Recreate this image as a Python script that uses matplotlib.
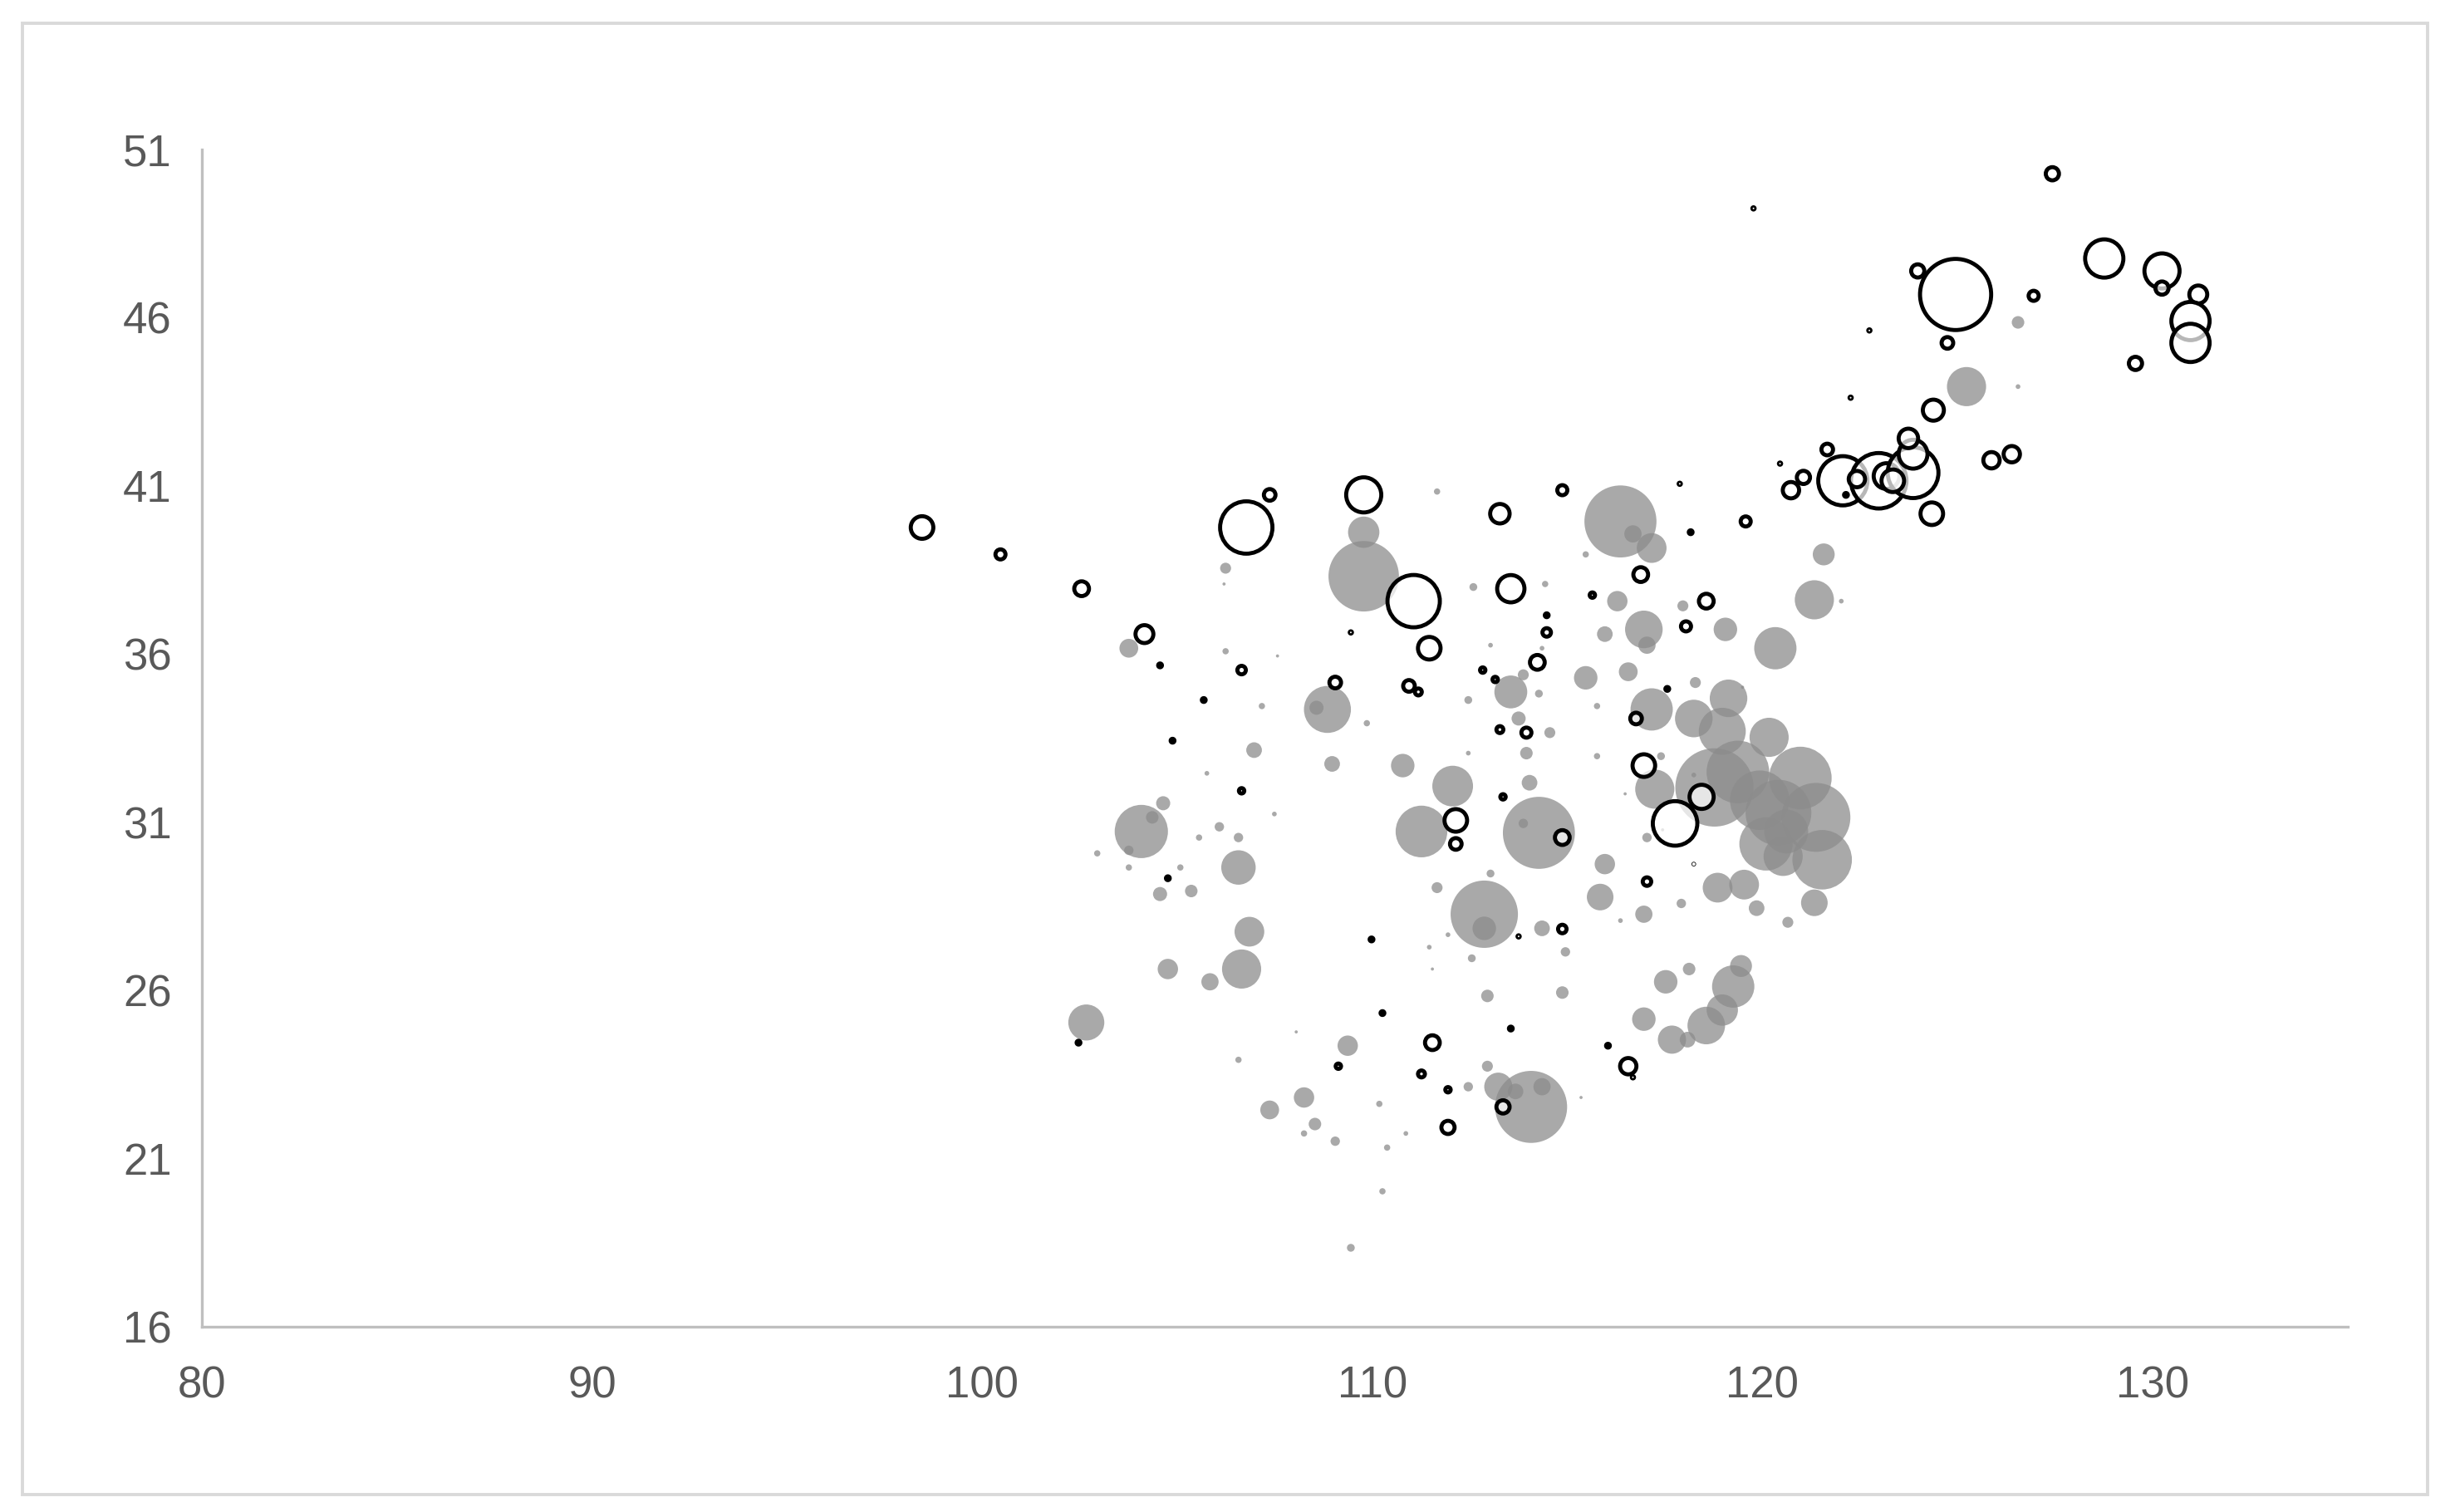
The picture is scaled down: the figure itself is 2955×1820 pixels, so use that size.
import matplotlib
matplotlib.use("Agg")
import matplotlib.pyplot as plt
from matplotlib.patches import Rectangle
import numpy as np

# gray filled bubbles: longitude, latitude, bubble value
gray_lon = [103.76, 106.24, 106.20, 106.24, 107.57, 108.85, 108.57, 107.17, 106.97, 108.97,
            105.76, 107.49, 104.08, 104.36, 103.76, 104.64, 106.08, 106.57, 105.56, 102.95,
            106.57, 103.76, 105.08, 104.56, 105.36, 106.85, 106.65, 105.84, 104.76, 102.67,
            106.57, 109.37, 108.25, 107.37, 108.53, 108.25, 109.05, 110.38, 110.26, 109.45,
            110.18, 110.86, 108.05, 109.86, 111.66, 109.78, 109.78, 112.59, 114.43, 113.03,
            114.35, 113.55, 113.87, 114.27, 112.46, 113.75, 114.55, 113.95, 112.46, 110.78,
            112.06, 111.26, 114.03, 114.27, 113.87, 115.47, 116.36, 116.68, 117.16, 116.28,
            116.96, 117.04, 115.96, 116.56, 115.47, 118.28, 117.96, 119.05, 120.33, 121.33,
            122.02, 121.57, 125.23, 126.55, 126.55, 115.76, 117.16, 118.24, 119.13, 118.97,
            120.17, 119.49, 115.76, 117.40, 117.24, 116.48, 117.04, 117.44, 118.24,
            118.77, 119.37, 120.97, 119.93, 120.41, 121.37, 120.09, 120.61, 120.53, 121.53,
            115.96, 115.84, 116.96, 116.36, 117.92, 114.35, 114.95, 114.87, 117.52, 118.12,
            119.45, 119.25, 118.97, 118.56, 118.08, 117.68, 116.96, 118.85, 119.53, 119.85,
            120.65, 121.33, 114.07, 114.35, 113.67, 113.23, 112.95, 112.46, 112.95, 112.55,
            111.46, 111.54, 111.94, 112.87, 112.87, 113.03, 111.66, 115.35]
gray_lat = [36.17, 38.55, 38.08, 36.08, 35.94, 34.35, 34.40, 34.45, 33.14, 32.73,
            32.45, 31.24, 30.72, 31.14, 30.16, 31.56, 30.86, 30.54, 30.54, 30.07,
            29.65, 29.65, 29.65, 28.86, 28.95, 27.74, 26.63, 26.25, 26.63, 25.04,
            23.93, 24.35, 22.81, 22.44, 22.02, 21.74, 21.51, 21.32, 20.02, 18.34,
            22.62, 21.74, 24.76, 33.94, 40.83, 39.62, 38.31, 37.99, 38.08, 36.26,
            36.17, 34.87, 35.38, 34.82, 34.63, 34.08, 33.66, 33.05, 33.05, 32.68,
            32.07, 30.72, 32.17, 30.68, 30.96, 38.96, 39.94, 39.57, 39.15, 37.57,
            36.73, 36.26, 36.59, 35.47, 35.29, 35.15, 37.43, 36.73, 36.17, 37.61,
            37.57, 38.96, 43.95, 45.86, 43.95, 34.45, 34.35, 34.08, 34.68, 33.70,
            33.52, 35.01, 32.96, 32.96, 31.98, 31.84, 30.54, 30.77, 32.40,
            32.03, 32.49, 32.31, 31.65, 31.28, 31.14, 30.35, 30.72, 29.98, 29.88,
            29.75, 28.77, 28.26, 28.07, 28.58, 27.84, 27.14, 25.93, 26.25, 26.63,
            26.72, 26.11, 25.41, 24.95, 24.53, 24.53, 25.14, 29.05, 29.14, 28.44,
            28.02, 28.60, 22.53, 23.13, 22.99, 23.13, 23.74, 23.13, 25.83, 26.95,
            27.28, 26.63, 27.65, 28.26, 27.84, 29.47, 29.05, 22.81]
gray_size = [144, 49, 4, 16, 4, 900, 81, 16, 100, 100,
             9, 9, 1156, 64, 36, 81, 36, 36, 16, 16,
             484, 16, 16, 81, 64, 361, 625, 121, 169, 529,
             16, 169, 169, 144, 64, 16, 36, 16, 16, 25,
             16, 9, 4, 16, 16, 400, 2025, 25, 16, 9,
             9, 441, 49, 25, 25, 81, 49, 64, 9, 225,
             676, 1089, 100, 2116, 36, 16, 2116, 121, 361, 169,
             576, 121, 100, 144, 225, 49, 49, 225, 729, 625,
             9, 196, 625, 64, 9, 16, 729, 576, 576, 900,
             625, 4, 16, 25, 625, 4, 36, 4, 9,
             2500, 1600, 1600, 1444, 1764, 1936, 1156, 784, 625, 1444,
             169, 289, 121, 9, 36, 100, 36, 64, 225, 64,
             196, 729, 400, 576, 100, 324, 225, 361, 361, 100,
             49, 289, 2116, 121, 100, 324, 49, 36, 64, 25,
             9, 4, 9, 1849, 225, 25, 49, 4]

# open black-edged bubbles
open_lon = [127.43, 119.77, 128.76, 130.24, 130.24, 131.17, 130.97, 130.97, 129.56, 126.95,
            124.95, 123.98, 124.74, 122.74, 124.38, 122.26, 125.87, 126.39, 124.34, 120.45,
            121.05, 120.73, 121.66, 122.06, 122.98, 123.18, 123.86, 123.86, 123.74, 122.42,
            122.14, 123.34, 119.57, 117.88, 118.16, 114.87, 113.27, 116.88, 115.64, 118.56,
            118.04, 117.56, 111.06, 111.46, 110.94, 111.18, 109.78, 113.55, 114.47, 114.47,
            114.23, 112.83, 113.15, 113.27, 113.95, 113.35, 112.14, 112.14, 114.87, 116.76,
            116.96, 118.44, 117.76, 117.04, 118.24, 98.46, 100.47, 102.55, 104.16, 104.56,
            106.77, 107.37, 109.45, 106.65, 109.05, 105.68, 104.88, 106.65, 104.76, 102.47,
            109.98, 110.26, 111.54, 111.26, 111.94, 111.94, 113.35, 109.13, 113.55, 113.75,
            114.87, 116.04, 116.56, 116.68]
open_lat = [50.28, 49.25, 47.76, 47.39, 46.88, 46.69, 45.90, 45.25, 44.64, 46.65,
            46.69, 47.39, 45.25, 45.62, 43.25, 43.62, 41.76, 41.94, 40.17, 41.66,
            41.25, 40.87, 42.08, 41.15, 41.15, 41.29, 41.39, 41.94, 42.41, 41.20,
            40.73, 41.15, 39.94, 41.06, 39.62, 40.87, 40.17, 38.36, 37.75, 37.57,
            36.82, 34.96, 37.57, 36.17, 35.05, 34.87, 40.73, 37.94, 37.15, 36.64,
            35.75, 35.52, 35.24, 33.75, 33.66, 31.75, 31.05, 30.35, 30.54, 34.08,
            32.68, 31.75, 30.96, 29.23, 29.75, 39.76, 38.96, 37.94, 36.59, 35.66,
            39.76, 40.73, 36.64, 35.52, 35.15, 34.63, 33.42, 31.93, 29.33, 24.44,
            27.51, 25.32, 24.44, 23.51, 23.04, 21.92, 22.53, 23.74, 24.86, 27.60,
            27.82, 24.35, 23.74, 23.41]
open_size = [121, 16, 729, 625, 121, 196, 729, 729, 121, 81,
             2304, 121, 100, 16, 256, 16, 169, 169, 289, 16,
             121, 169, 100, 1156, 1444, 361, 1225, 441, 225, 169,
             25, 289, 81, 16, 25, 81, 225, 144, 36, 144,
             81, 25, 1296, 289, 100, 49, 625, 400, 25, 64,
             144, 36, 36, 49, 81, 36, 289, 100, 144, 100,
             289, 324, 961, 64, 9, 289, 81, 144, 196, 25,
             1296, 100, 16, 64, 100, 25, 25, 36, 25, 25,
             25, 25, 144, 49, 36, 121, 121, 36, 25, 16,
             64, 25, 169, 16]

x_ticks = [80, 90, 100, 110, 120, 130]
y_ticks = [16, 21, 26, 31, 36, 41, 46, 51]

plt.rcParams['font.family'] = ['Liberation Sans', 'DejaVu Sans']

DPI = 100
fig = plt.figure(figsize=(29.55, 18.2), dpi=DPI)
ax = fig.add_axes([0.0822, 0.1227, 0.8741, 0.7784])

#bubble value is proportional to area
scale = 1.8846 * 72 / DPI
edge_w = 3.5

gray_d = np.sqrt(np.array(gray_size, dtype=float)) * scale
ax.scatter(gray_lon, gray_lat, s=gray_d ** 2, color=(0.55, 0.55, 0.55, 0.75),
           edgecolors='none', zorder=2)

open_d = np.sqrt(np.array(open_size, dtype=float)) * scale - edge_w
open_d = np.clip(open_d, 0.5, None)
ax.scatter(open_lon, open_lat, s=open_d ** 2, facecolors=(1, 1, 1, 0.72),
           edgecolors='black', linewidths=edge_w, zorder=3)

ax.set_xlim(80, 135)
ax.set_ylim(16, 51)
ax.set_xticks(x_ticks)
ax.set_yticks(y_ticks)

for side in ['top', 'right']:
    ax.spines[side].set_visible(False)
for side in ['left', 'bottom']:
    ax.spines[side].set_color('#bfbfbf')
    ax.spines[side].set_linewidth(2.4)

ax.tick_params(axis='both', length=0, labelsize=38, labelcolor='#595959')
ax.tick_params(axis='x', pad=34)
ax.tick_params(axis='y', pad=26)

#light frame around the whole chart
fig.patches.append(Rectangle((0.0091, 0.0115), 0.9797, 0.9731, transform=fig.transFigure,
                             fill=False, edgecolor='#d9d9d9', linewidth=2.8))

fig.savefig('out.png', dpi=DPI)
